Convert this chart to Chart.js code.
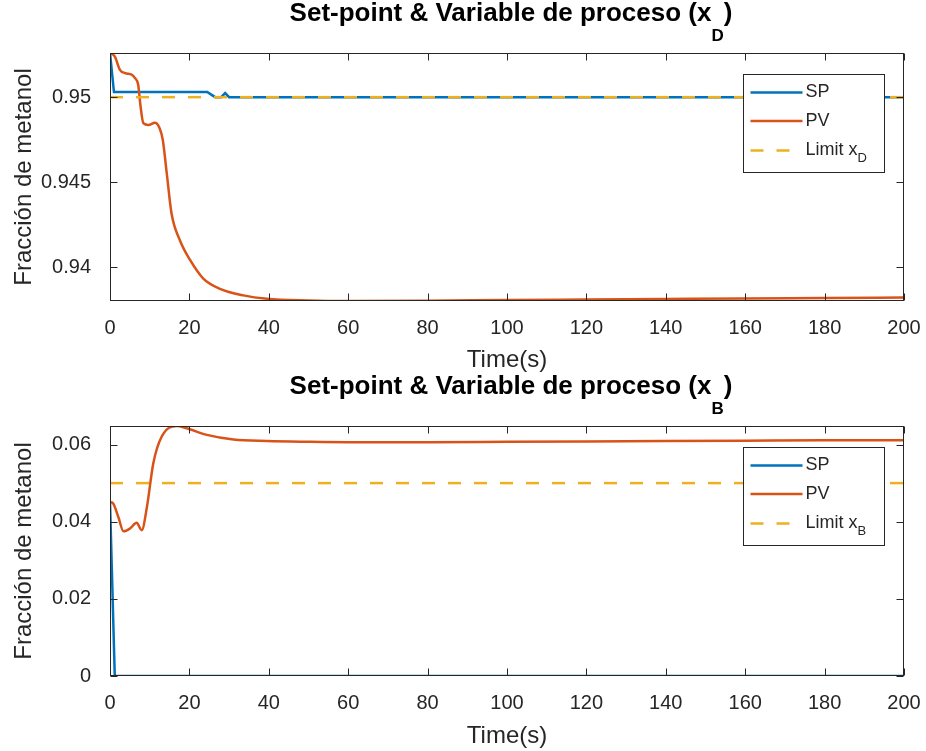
<!DOCTYPE html>
<html>
<head>
<meta charset="utf-8">
<script src="https://cdn.jsdelivr.net/npm/chart.js@4.4.1/dist/chart.umd.min.js"></script>
<style>
  html, body { margin: 0; padding: 0; background: #fff; }
  #wrap { position: relative; width: 926px; height: 751px; }
  canvas { position: absolute; left: 0; }
</style>
</head>
<body>
<div id="wrap">
  <canvas id="plotD" width="926" height="375" style="top:0"></canvas>
  <canvas id="plotB" width="926" height="376" style="top:375px"></canvas>
</div>
<script>
// shared time axis (s)
const xTicks = [0, 20, 40, 60, 80, 100, 120, 140, 160, 180, 200];

// distillate composition x_D
const tSpD = [0, 1.0, 24.5, 25.5, 26.5, 28.0, 29.0, 30.0, 200];
const spD = [0.9526, 0.9503, 0.9503, 0.95015, 0.9500, 0.9500, 0.95024, 0.9500, 0.9500];
const tPvD = [0, 1.2, 2.5, 3.8, 5.5, 6.3, 7.1, 7.7, 8.4, 9.7, 11.3, 12.4, 13.3, 14.3, 15.5,
  17.6, 20.2, 23.5, 27.7, 33.6, 39.5, 50, 60, 80, 100, 120, 140, 160, 180, 200];
const pvD = [0.9526, 0.9524, 0.95161, 0.95142, 0.95132, 0.95112, 0.95073, 0.94945, 0.94847, 0.94836,
  0.94850, 0.94823, 0.94748, 0.94551, 0.94315, 0.94158, 0.94040, 0.93932, 0.93872, 0.93833, 0.93813,
  0.93803, 0.93800, 0.93802, 0.93806, 0.93809, 0.93812, 0.93815, 0.93817, 0.93820];
const limitD = 0.95;
const yTicksD = [0.94, 0.945, 0.95];

// bottoms composition x_B
const tSpB = [0, 1.2, 200];
const spB = [0.0451, 0, 0];
const tPvB = [0, 0.8, 2.1, 3.4, 5.0, 6.7, 8.0, 9.3, 10.9, 13.0, 16.8, 19.3, 24.4, 31.1, 39.5,
  50, 60, 80, 100, 120, 140, 160, 180, 200];
const pvB = [0.0451, 0.0447, 0.0412, 0.0375, 0.0382, 0.0397, 0.0378, 0.0438, 0.0551, 0.0620, 0.0648,
  0.0642, 0.0625, 0.0613, 0.0609, 0.0607, 0.0606, 0.0606, 0.0607, 0.0608, 0.0609, 0.0610, 0.0611, 0.0611];
const limitB = 0.05;
const yTicksB = [0, 0.02, 0.04, 0.06];

const FONT = '"Liberation Sans", Arial, Helvetica, sans-serif';
const AXIS_COLOR = '#262626';
const BLUE = '#0072BD', ORANGE = '#D95319', YELLOW = '#EDB120';

const pts = (ts, vs) => ts.map((t, i) => ({ x: t, y: vs[i] }));

// text with an optional lowered subscript part
function drawRich(ctx, parts, x, y, align) {
  let w = 0;
  parts.forEach(p => { ctx.font = p.font; p.w = ctx.measureText(p.text).width; w += p.w; });
  let cx = align === 'center' ? x - w / 2 : x;
  ctx.textAlign = 'left';
  parts.forEach(p => { ctx.font = p.font; ctx.fillText(p.text, cx, y + (p.dy || 0)); cx += p.w; });
}

// boxed axes with inward ticks on all four sides
const axesFrame = {
  id: 'axesFrame',
  afterDatasetsDraw(chart) {
    const { ctx, chartArea: a, scales: { x, y } } = chart;
    const L = Math.round(a.left) + 0.5, R = Math.round(a.right) - 0.5;
    const T = Math.round(a.top) + 0.5, B = Math.round(a.bottom) - 0.5;
    ctx.save();
    ctx.strokeStyle = AXIS_COLOR;
    ctx.lineWidth = 1;
    ctx.strokeRect(L, T, R - L, B - T);
    ctx.beginPath();
    x.ticks.forEach(t => {
      const px = Math.round(x.getPixelForValue(t.value)) + 0.5;
      ctx.moveTo(px, B); ctx.lineTo(px, B - 7);
      ctx.moveTo(px, T); ctx.lineTo(px, T + 7);
    });
    y.ticks.forEach(t => {
      const py = Math.round(y.getPixelForValue(t.value)) + 0.5;
      ctx.moveTo(L, py); ctx.lineTo(L + 7, py);
      ctx.moveTo(R, py); ctx.lineTo(R - 7, py);
    });
    ctx.stroke();
    ctx.restore();
  }
};

const richTitle = {
  id: 'richTitle',
  afterDraw(chart, args, opts) {
    const { ctx, chartArea: a } = chart;
    ctx.save();
    ctx.fillStyle = '#000';
    ctx.textBaseline = 'alphabetic';
    drawRich(ctx, [
      { text: opts.text, font: 'bold 26px ' + FONT },
      { text: opts.sub, font: 'bold 17px ' + FONT, dy: 20 },
      { text: ')', font: 'bold 26px ' + FONT }
    ], (a.left + a.right) / 2 + 4, a.top - 32, 'center');
    ctx.restore();
  }
};

const boxLegend = {
  id: 'boxLegend',
  afterDraw(chart) {
    const { ctx, chartArea: a } = chart;
    const w = 141, h = 98;
    const left = Math.round(a.right) - 20 - w + 0.5, top = Math.round(a.top) + 21 + 0.5;
    ctx.save();
    ctx.fillStyle = '#fff';
    ctx.fillRect(left, top, w, h);
    ctx.strokeStyle = AXIS_COLOR;
    ctx.lineWidth = 1;
    ctx.strokeRect(left, top, w, h);
    const rows = [18, 46.5, 76];
    // legend follows dataset order: SP, PV, Limit
    chart.data.datasets.forEach((ds, i) => {
      const ry = top + rows[i];
      ctx.beginPath();
      ctx.strokeStyle = ds.borderColor;
      ctx.lineWidth = ds.borderWidth;
      ctx.setLineDash(ds.borderDash || []);
      ctx.moveTo(left + 7, ry);
      ctx.lineTo(left + 59, ry);
      ctx.stroke();
      ctx.setLineDash([]);
      ctx.fillStyle = AXIS_COLOR;
      ctx.textBaseline = 'middle';
      const parts = [{ text: ds.label, font: '18px ' + FONT }];
      if (ds.labelSub) parts.push({ text: ds.labelSub, font: '13px ' + FONT, dy: 8 });
      drawRich(ctx, parts, left + 62, ry, 'left');
    });
    ctx.restore();
  }
};

function makeChart(id, sp, pv, limit, yTicks, sub, padTop, xHeight) {
  const all = sp.concat(pv).map(p => p.y).concat([limit]);
  const yMin = Math.min(...all), yMax = Math.max(...all);
  return new Chart(document.getElementById(id), {
    type: 'line',
    data: {
      datasets: [
        { label: 'SP', data: sp, borderColor: BLUE, borderWidth: 2.5, pointRadius: 0, tension: 0, order: 2 },
        { label: 'PV', data: pv, borderColor: ORANGE, borderWidth: 2.5, pointRadius: 0,
          cubicInterpolationMode: 'monotone', order: 1 },
        { label: 'Limit x', labelSub: sub, data: [{ x: 0, y: limit }, { x: 200, y: limit }],
          borderColor: YELLOW, borderWidth: 2.5, borderDash: [13, 13], pointRadius: 0, order: 0 }
      ]
    },
    options: {
      responsive: false,
      animation: false,
      devicePixelRatio: 1,
      events: [],
      layout: { padding: { top: padTop, right: 22, bottom: 0, left: 0 } },
      scales: {
        x: {
          type: 'linear', min: 0, max: 200,
          afterBuildTicks: s => { s.ticks = xTicks.map(v => ({ value: v })); },
          afterFit: s => { s.height = xHeight; s.paddingLeft = 0; s.paddingRight = 0; },
          grid: { display: false },
          border: { display: false },
          ticks: { font: { family: FONT, size: 20 }, color: AXIS_COLOR, padding: 7, maxRotation: 0, autoSkip: false },
          title: { display: true, text: 'Time(s)', color: AXIS_COLOR, font: { family: FONT, size: 24 },
            padding: { top: 0, bottom: 0 } }
        },
        y: {
          type: 'linear', min: yMin, max: yMax,
          afterBuildTicks: s => { s.ticks = yTicks.map(v => ({ value: v })); },
          afterFit: s => { s.width = 110; s.paddingTop = 0; s.paddingBottom = 0; },
          grid: { display: false },
          border: { display: false },
          ticks: { font: { family: FONT, size: 20 }, color: AXIS_COLOR, padding: 11,
            callback: v => String(v) },
          title: { display: true, text: 'Fracción de metanol', color: AXIS_COLOR, font: { family: FONT, size: 24 },
            padding: { top: 10, bottom: 0 } }
        }
      },
      plugins: {
        legend: { display: false },
        tooltip: { enabled: false },
        richTitle: { text: 'Set-point & Variable de proceso (x', sub: sub }
      }
    },
    plugins: [axesFrame, richTitle, boxLegend]
  });
}

makeChart('plotD', pts(tSpD, spD), pts(tPvD, pvD), limitD, yTicksD, 'D', 53, 74);
makeChart('plotB', pts(tSpB, spB), pts(tPvB, pvB), limitB, yTicksB, 'B', 51, 75);
</script>
</body>
</html>
